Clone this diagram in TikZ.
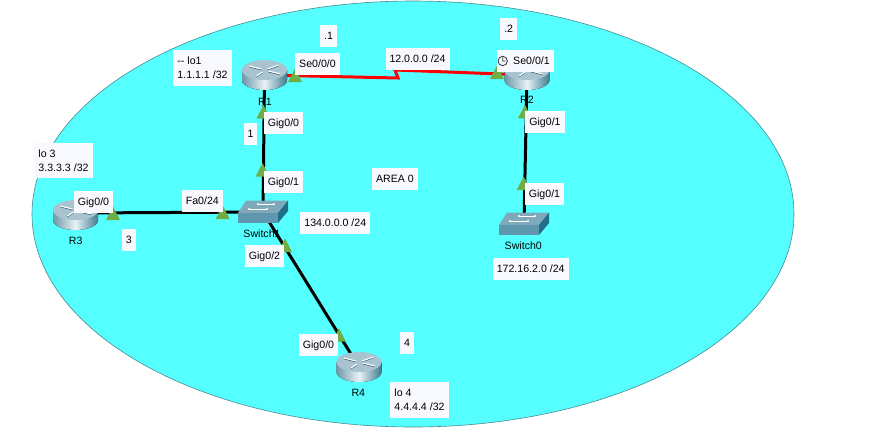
\documentclass[tikz,border=0pt]{standalone}
\usepackage{fontspec}
\setmainfont{Liberation Sans}
\usepackage{xcolor}
\usetikzlibrary{positioning,shapes}

\definecolor{areacyan}{HTML}{55FFFF}
\definecolor{arealine}{HTML}{4A8A90}
\definecolor{labelbg}{HTML}{F8F8FF}
\definecolor{portgreen}{HTML}{70AD47}
\definecolor{routertop}{HTML}{A9C4D0}
\definecolor{routerdark}{HTML}{6E98AA}
\definecolor{routerend}{HTML}{3F7A90}
\definecolor{routerlight}{HTML}{E8F2F5}
\definecolor{switchtop}{HTML}{7FA9BB}
\definecolor{switchfront}{HTML}{5E97AE}
\definecolor{switchside}{HTML}{1F6E8A}

\tikzset{
    lblbase/.style={fill=labelbg, inner xsep=4pt, outer sep=0pt, font=\fontsize{10.6}{13.7}\selectfont},
    lbl/.style={lblbase, inner ysep=7.2pt, text height=7.6pt, text depth=0pt},
    lbltwo/.style={lblbase, inner ysep=6.9pt, text depth=0pt, align=left},
    devname/.style={inner sep=0pt, font=\fontsize{10.6}{13}\selectfont},
    device/.style={inner sep=0pt, outer sep=0pt, minimum size=1pt},
    link/.style={line width=3pt, black},
    seriallink/.style={line width=3pt, red, line join=miter},
    port/.style={fill=portgreen},
    router/.pic={
        \fill[left color=routerdark, right color=routerend, middle color=routerlight]
            (-22.5,-5) -- (-22.5,5) arc[start angle=180, end angle=0, x radius=22.5, y radius=10]
            -- (22.5,-5) -- cycle;
        \fill[routertop] (0,-5) ellipse[x radius=22.5, y radius=10];
        % arrows on the top
        \foreach \ax/\ay/\bx/\by in {-15/-9/-3/-6, 14/-10/3/-6, -8/1/-2/-3, 16/-1/4/-4}{
            \draw[routerend!70!black, line width=0.7pt] (\ax,\ay+0.9) -- (\bx,\by+0.9);
            \draw[white, line width=1.1pt] (\ax,\ay) -- (\bx,\by);
        }
    },
    switchbox/.pic={
        \fill[switchtop] (-17,-11.5) -- (25,-11.5) -- (15,1) -- (-25,1) -- cycle;
        \fill[switchfront] (-25,1) -- (15,1) -- (15,11) -- (-25,11) -- cycle;
        \fill[switchside] (15,1) -- (25,-11.5) -- (25,-1) -- (15,11) -- cycle;
        % arrows on the top
        \draw[white, line width=0.8pt] (-5,-8) -- (11,-8);
        \draw[white, line width=0.8pt] (-14,-3) -- (4,-3);
        \fill[white] (-5,-8) circle (1.2) (11,-8) circle (1.2) (-14,-3) circle (1.2) (4,-3) circle (1.2);
    },
}

\begin{document}
\begin{tikzpicture}[x=1pt, y=-1pt]
    \useasboundingbox (0,0) rectangle (886,437);

    % Area
    \filldraw[fill=areacyan, draw=arealine, line width=0.6pt] (413,214) ellipse[x radius=381, y radius=213];

    % Devices
    \node[device] (r1) at (264.5,75) {};
    \node[device] (r2) at (527,75) {};
    \node[device] (r3) at (75.5,213) {};
    \node[device] (r4) at (359,367) {};
    \node[device] (sw1) at (263,212) {};
    \node[device] (sw0) at (524,224) {};
    \coordinate (bolt1) at (398,78);
    \coordinate (bolt2) at (395,70);

    % Links
    \draw[seriallink] (r1) -- (bolt1) -- (bolt2) -- (r2);
    \draw[link] (r1) -- (sw1);
    \draw[link] (r3) -- (sw1);
    \draw[link] (sw1) -- (r4);
    \draw[link] (r2) -- (sw0);

    % Icons
    \pic at (r1) {router};
    \pic at (r2) {router};
    \pic at (75.5,215) {router};
    \pic at (r4) {router};
    \pic at (sw1) {switchbox};
    \pic at (sw0) {switchbox};

    % Ports
    \foreach \px/\py in {295/82, 263.5/118.5, 497/79, 525/118.3, 523.7/190,
                         262.5/176.7, 113/220, 222.7/219, 285/252, 339/341.7}{
        \fill[port] (\px-7,\py) -- (\px,\py-13.5) -- (\px+7,\py) -- cycle;
    }

    % Device names
    \node[devname] (r1name) at (265,102) {R1};
    \node[devname] (r2name) at (527,100) {R2};
    \node[devname] (r3name) at (75.7,241) {R3};
    \node[devname] (r4name) at (358.3,392.7) {R4};
    \node[devname] (sw1name) at (262,234) {Switch1};
    \node[devname] (sw0name) at (523.3,246) {Switch0};

    % Labels
    \node[lbltwo] (lo1) at (202.5,68) {-{}- lo1\\1.1.1.1 /32};
    \node[lbl] (dot1) at (328.5,36) {.1};
    \node[lbl] (se000) at (317.5,64) {Se0/0/0};
    \node[lbl] (net12) at (417.5,59) {12.0.0.0 /24};
    \node[lbl] (dot2) at (508.7,29) {.2};
    \node[lbl, minimum width=57pt, align=right] (se001) at (525.5,61) {\hspace{12pt}Se0/0/1};
    \node[lbl] (r1gig) at (283.5,123) {Gig0/0};
    \node[lbl] (cost1) at (250.5,134) {1};
    \node[lbl] (r2gig) at (545,122) {Gig0/1};
    \node[lbl] (sw1gig1) at (283.5,182) {Gig0/1};
    \node[lbl] (area) at (395,179) {AREA 0};
    \node[lbltwo] (lo3) at (63.5,160.5) {lo 3\\3.3.3.3 /32};
    \node[lbl] (r3gig) at (93.5,201.7) {Gig0/0};
    \node[lbl] (fa24) at (202.3,200.8) {Fa0/24};
    \node[lbl] (cost3) at (128.8,240) {3};
    \node[lbl] (sw1gig2) at (264.5,256) {Gig0/2};
    \node[lbl] (net134) at (335.3,223) {134.0.0.0 /24};
    \node[lbl] (r4gig) at (318.5,345) {Gig0/0};
    \node[lbl] (cost4) at (407,343) {4};
    \node[lbltwo] (lo4) at (419.5,400) {lo 4\\4.4.4.4 /32};
    \node[lbl] (sw0gig) at (544.5,194) {Gig0/1};
    \node[lbl] (net172) at (530.7,269) {172.16.2.0 /24};

    % Clock
    \draw[black!80, line width=0.8pt] (502.7,61) circle (4.7) (502.7,57.5) -- (502.7,61) -- (505.5,61);
\end{tikzpicture}
\end{document}
